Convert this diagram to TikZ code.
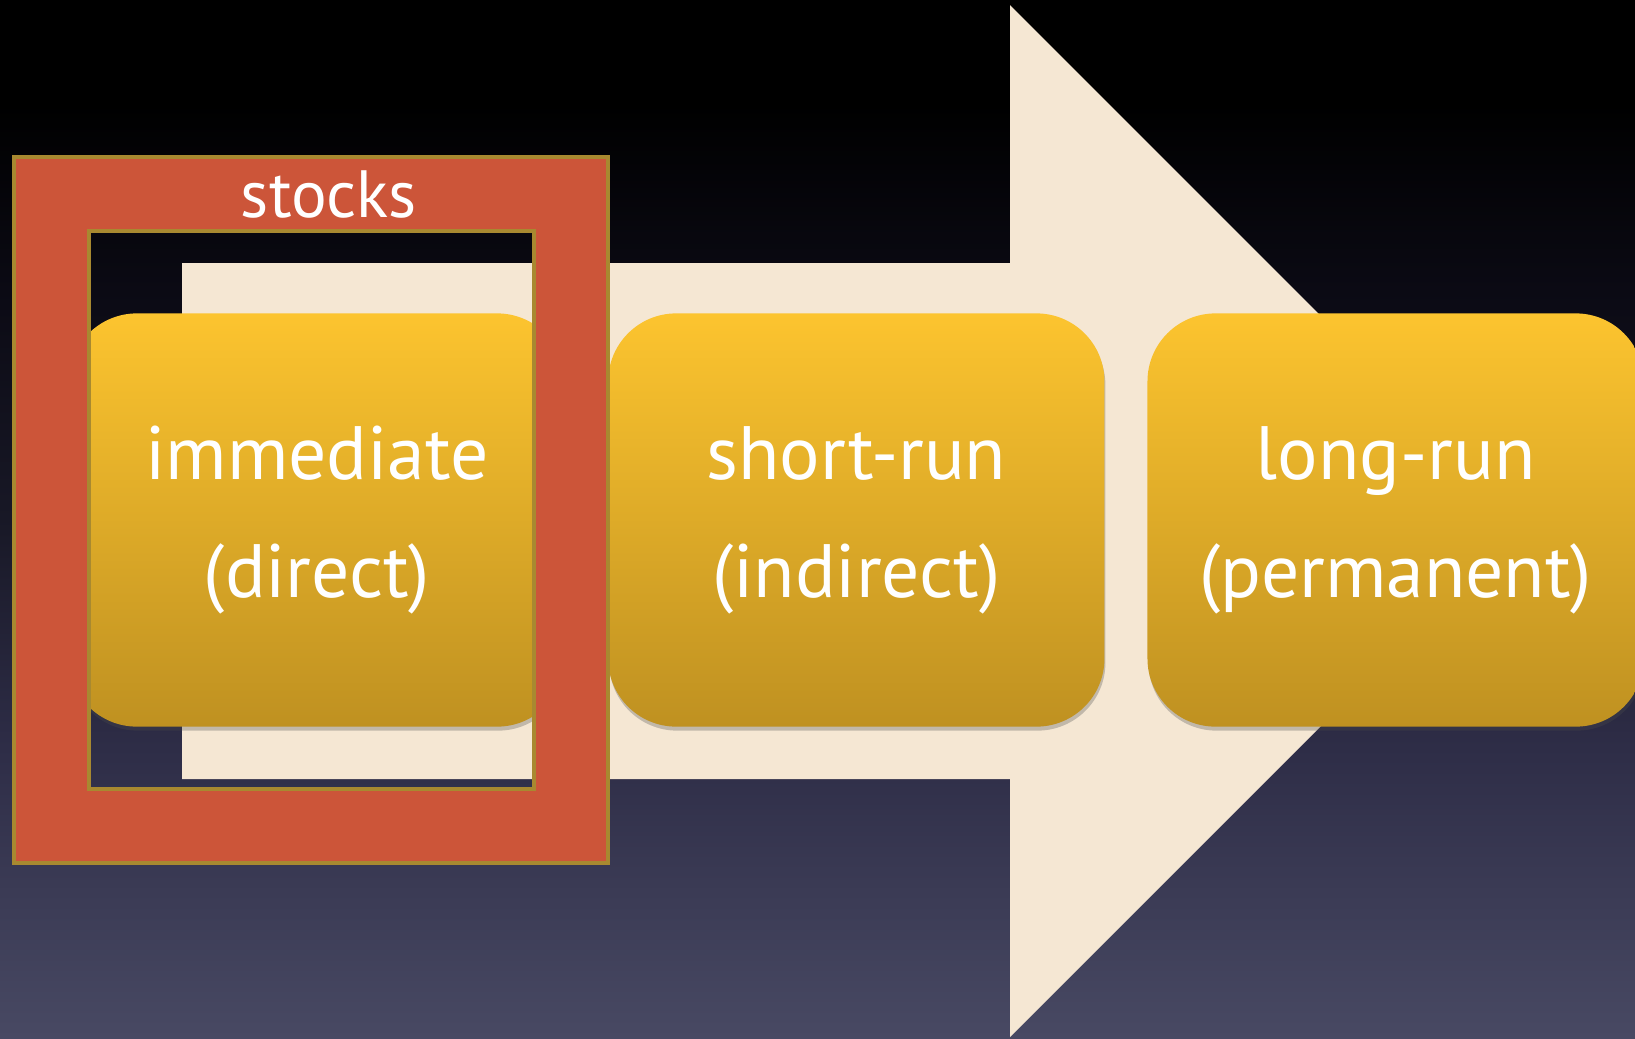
\documentclass[tikz,border=0pt]{standalone}
\usepackage{fontspec}
\setmainfont{PT Sans}
\usepackage{xcolor}
\usepackage[]{tikz}
\usetikzlibrary{positioning,shadows}
\definecolor{bgbot}{RGB}{72,73,99}
\definecolor{bglow}{RGB}{46,45,71}
\definecolor{bgmid}{RGB}{24,24,38}
\definecolor{bghigh}{RGB}{11,10,20}
\definecolor{arrowcream}{RGB}{245,231,211}
\definecolor{boxtop}{RGB}{252,196,47}
\definecolor{boxbot}{RGB}{191,145,33}
\definecolor{framered}{RGB}{204,85,57}
\definecolor{frameline}{RGB}{168,137,48}
\pgfdeclareverticalshading{bgshade}{100bp}{color(0bp)=(bgbot); color(25bp)=(bgbot); color(39bp)=(bglow); color(50bp)=(bgmid); color(61bp)=(bghigh); color(70bp)=(black); color(100bp)=(black)}
\tikzset{stage node/.style={rectangle,rounded corners=0.68cm,top color=boxtop,bottom color=boxbot,minimum width=4.96cm,minimum height=4.13cm,text=white,align=center,font=\fontsize{21.5}{33.6}\selectfont,drop shadow={shadow xshift=0.01cm,shadow yshift=-0.04cm,opacity=0.3,fill=black!70}}}
\tikzset{frame box/.style={fill=framered,draw=frameline,line width=0.04cm,even odd rule}}

\begin{document}
\begin{tikzpicture}[x=0.01cm, y=-0.01cm, on grid]
      \useasboundingbox (0,0) rectangle (1635,1038);
      \shade[shading=bgshade] (0,0) rectangle (1635,1038);
      \fill[arrowcream] (182,263) -- (1010,263) -- (1010,5) -- (1526,521) -- (1010,1037) -- (1010,779) -- (182,779) -- cycle;
      \node[stage node] (imm) at (317,520) {immediate\\(direct)};
      \node[stage node] (short) [right = 5.39cm of imm] {short-run\\(indirect)};
      \node[stage node] (long) [right = 5.39cm of short] {long-run\\(permanent)};
      \path[frame box] (14,157) rectangle (608,863) (89,231) rectangle (534,789);
      \node[text=white,font=\fontsize{19}{24}\selectfont] (stocks) at (329,195) {stocks};
    \end{tikzpicture}
\end{document}
